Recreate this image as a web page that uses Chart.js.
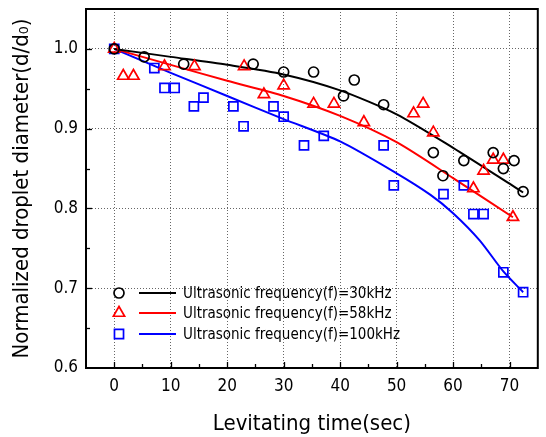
<!DOCTYPE html>
<html><head><meta charset="utf-8">
<script src="https://cdn.jsdelivr.net/npm/chart.js@4/dist/chart.umd.min.js"></script>
<style>html,body{margin:0;padding:0;background:#fff;}#wrap{width:546px;height:437px;}</style>
</head><body><div id="wrap"><canvas id="c" width="546" height="437"></canvas></div>
<script>
// ---- data ----
const xTickLabels = [0, 10, 20, 30, 40, 50, 60, 70];
const yTickLabels = [0.6, 0.7, 0.8, 0.9, 1.0];
const seriesNames = ['Ultrasonic frequency(f)=30kHz', 'Ultrasonic frequency(f)=58kHz', 'Ultrasonic frequency(f)=100kHz'];

const t30 = [0, 5.3, 12.3, 24.6, 30.0, 35.3, 40.6, 42.5, 47.7, 56.5, 58.2, 61.9, 67.1, 68.9, 70.8, 72.4];
const d30 = [1.0, 0.99, 0.981, 0.981, 0.971, 0.971, 0.941, 0.961, 0.930, 0.870, 0.841, 0.860, 0.870, 0.850, 0.860, 0.821];

const t58 = [0, 1.6, 3.4, 8.9, 14.2, 23.0, 26.5, 30.0, 35.3, 38.9, 44.2, 53.0, 54.7, 56.5, 63.6, 65.4, 67.1, 68.9, 70.6];
const d58 = [1.0, 0.966, 0.966, 0.978, 0.978, 0.978, 0.943, 0.954, 0.931, 0.931, 0.908, 0.919, 0.931, 0.895, 0.825, 0.847, 0.861, 0.861, 0.789];

const t100 = [0, 7.1, 8.9, 10.7, 14.1, 15.8, 21.1, 22.9, 28.2, 30.0, 33.6, 37.1, 47.7, 49.5, 58.3, 61.9, 63.6, 65.4, 68.9, 72.4];
const d100 = [1.0, 0.976, 0.951, 0.951, 0.928, 0.939, 0.928, 0.903, 0.928, 0.915, 0.879, 0.891, 0.879, 0.829, 0.818, 0.829, 0.793, 0.793, 0.720, 0.695];

// fitted curves
const fitT30 = [0, 10, 20, 30, 40, 50, 60, 70, 72.4];
const fit30 = [1.0, 0.990, 0.980, 0.968, 0.948, 0.918, 0.876, 0.831, 0.820];
const fitT58 = [0, 10, 20, 30, 40, 50, 60, 70.6];
const fit58 = [1.0, 0.980, 0.960, 0.941, 0.916, 0.883, 0.838, 0.789];
const fitT100 = [0, 10, 20, 30, 40, 50, 56, 60, 64.7, 68.9, 72.4];
const fit100 = [1.0, 0.970, 0.941, 0.912, 0.884, 0.844, 0.817, 0.794, 0.760, 0.721, 0.695];

// ---- styling ----
const FONT = "'DejaVu Sans Condensed','DejaVu Sans',sans-serif";
const colors = ['#000000', '#ff0000', '#0000ff'];
const styles = ['circle', 'triangle', 'rect'];
const radii = [5, 6.5, 6.4];

const zip = (xs, ys) => xs.map((x, i) => ({x, y: ys[i]}));
const pts = [[t30, d30], [t58, d58], [t100, d100]];
const fits = [[fitT30, fit30], [fitT58, fit58], [fitT100, fit100]];

const datasets = [];
fits.forEach((f, i) => datasets.push({
  type: 'line', label: seriesNames[i] + ' fit', data: zip(f[0], f[1]),
  borderColor: colors[i], borderWidth: 2, pointRadius: 0, fill: false,
  tension: 0.25, order: 2
}));
pts.forEach((p, i) => datasets.push({
  type: 'scatter', label: seriesNames[i], data: zip(p[0], p[1]),
  borderColor: colors[i], backgroundColor: 'rgba(0,0,0,0)', borderWidth: 1.7,
  pointStyle: styles[i], pointRadius: radii[i], pointHoverRadius: radii[i], order: 1
}));

const isMajorX = v => xTickLabels.some(t => Math.abs(t - v) < 1e-6);
const isMajorY = v => yTickLabels.some(t => Math.abs(t - v) < 1e-6);

function marker(ctx, style, x, y, r) {
  ctx.beginPath();
  if (style === 'circle') ctx.arc(x, y, r, 0, Math.PI * 2);
  else if (style === 'triangle') {
    ctx.moveTo(x, y - r);
    ctx.lineTo(x + r * Math.sin(Math.PI / 3), y + r * 0.5);
    ctx.lineTo(x - r * Math.sin(Math.PI / 3), y + r * 0.5);
    ctx.closePath();
  } else {
    const s = r * Math.SQRT1_2;
    ctx.rect(x - s, y - s, 2 * s, 2 * s);
  }
  ctx.stroke();
}

const framePlugin = {
  id: 'frame',
  afterDatasetsDraw(chart) {
    const {ctx, chartArea: a, scales: {x, y}} = chart;
    ctx.save();
    ctx.strokeStyle = '#000';
    ctx.lineWidth = 1.3;
    x.ticks.forEach(t => {
      if (t.value <= x.min || t.value >= x.max) return;
      const px = Math.round(x.getPixelForValue(t.value)) + 0.5;
      const len = isMajorX(t.value) ? 6 : 4;
      ctx.beginPath(); ctx.moveTo(px, a.bottom); ctx.lineTo(px, a.bottom - len); ctx.stroke();
    });
    y.ticks.forEach(t => {
      if (t.value <= y.min + 1e-9 || t.value >= y.max - 1e-9) return;
      const py = Math.round(y.getPixelForValue(t.value)) + 0.5;
      const len = isMajorY(t.value) ? 6 : 4;
      ctx.beginPath(); ctx.moveTo(a.left, py); ctx.lineTo(a.left + len, py); ctx.stroke();
    });
    ctx.lineWidth = 2;
    ctx.strokeRect(a.left, a.top, a.right - a.left, a.bottom - a.top);

    // legend
    const rows = [293, 313, 334];
    ctx.font = '15px ' + FONT;
    ctx.textBaseline = 'middle';
    ctx.textAlign = 'left';
    rows.forEach((ry, i) => {
      ctx.strokeStyle = colors[i];
      ctx.lineWidth = 1.7;
      marker(ctx, styles[i], 119, ry, radii[i]);
      ctx.lineWidth = 2;
      ctx.beginPath(); ctx.moveTo(139, ry); ctx.lineTo(176, ry); ctx.stroke();
      ctx.fillStyle = '#000';
      ctx.fillText(seriesNames[i], 183, ry + 1);
    });
    ctx.restore();
  }
};

new Chart(document.getElementById('c'), {
  data: {datasets},
  plugins: [framePlugin],
  options: {
    responsive: false, animation: false, devicePixelRatio: 1,
    layout: {padding: {left: 0, right: 6, top: 9, bottom: 0}},
    plugins: {legend: {display: false}, tooltip: {enabled: false}},
    scales: {
      x: {
        type: 'linear', min: -5, max: 75,
        afterFit: s => { s.height = 69; s.paddingLeft = 0; s.paddingRight = 0; },
        ticks: {stepSize: 5, autoSkip: false, maxRotation: 0, padding: 8, color: '#000',
          font: {family: FONT, size: 17},
          callback: v => isMajorX(v) ? String(v) : ''},
        grid: {drawTicks: false, lineWidth: 1,
          color: c => (c.tick && isMajorX(c.tick.value)) ? '#666' : 'rgba(0,0,0,0)'},
        border: {display: false, dash: [1, 2]},
        title: {display: true, text: 'Levitating time(sec)', color: '#000',
          font: {family: FONT, size: 22}, padding: {top: 0, bottom: 0}}
      },
      y: {
        type: 'linear', min: 0.6, max: 1.05,
        afterFit: s => { s.width = 86; s.paddingTop = 0; s.paddingBottom = 0; },
        ticks: {stepSize: 0.05, autoSkip: false, padding: 8, color: '#000',
          font: {family: FONT, size: 17},
          callback: v => isMajorY(v) ? Number(v).toFixed(1) : ''},
        grid: {drawTicks: false, lineWidth: 1,
          color: c => (c.tick && isMajorY(c.tick.value) && c.tick.value > 0.65) ? '#666' : 'rgba(0,0,0,0)'},
        border: {display: false, dash: [1, 2]},
        title: {display: true, text: 'Normalized droplet diameter(d/d\u2080)', color: '#000',
          font: {family: FONT, size: 22}, padding: {top: 9, bottom: 0}}
      }
    }
  }
});
</script></body></html>
